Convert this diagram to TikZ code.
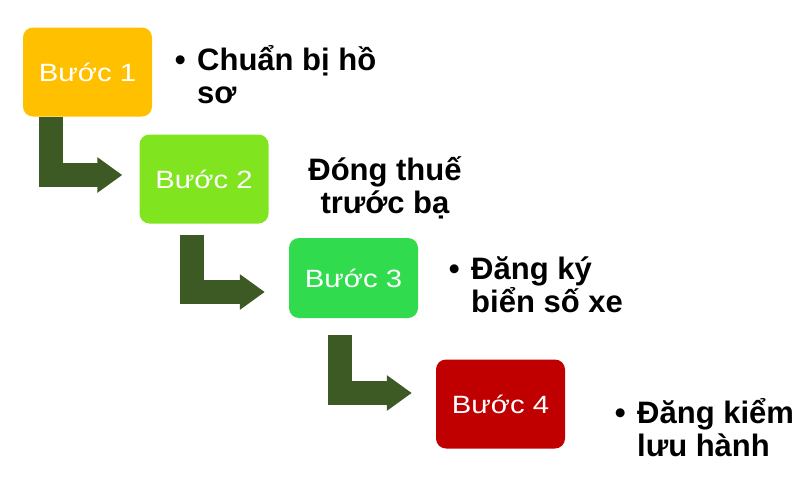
\documentclass[tikz,border=0pt]{standalone}
\usepackage{fontspec}
\setmainfont{Liberation Sans}
\newfontfamily\boxfont[FakeStretch=1.17]{Liberation Sans}
\usetikzlibrary{arrows.meta}
\definecolor{buoc1}{HTML}{FFC000}
\definecolor{buoc2}{HTML}{80E51F}
\definecolor{buoc3}{HTML}{30DB4E}
\definecolor{buoc4}{HTML}{C00000}
\definecolor{muiten}{HTML}{3D5A24}
\begin{document}
\begin{tikzpicture}[x=1pt, y=-1pt,
  box/.style={rounded corners=10pt, minimum width=129pt, minimum height=89pt,
    inner sep=0pt, text=white, font=\boxfont\fontsize{25}{30}\selectfont},
  note/.style={font=\fontsize{31}{33}\bfseries\selectfont, align=left,
    anchor=base west, inner sep=0pt},
  steparrow/.style={draw=muiten, line width=24pt,
    -{Triangle[width=34pt,length=25pt]}}]
\path[use as bounding box] (0,0) rectangle (800,482);
% cac buoc
\node[box, fill=buoc1] (b1) at (87.5,72) {Bước 1};
\node[box, fill=buoc2] (b2) at (204,179) {Bước 2};
\node[box, fill=buoc3, minimum height=80pt] (b3) at (353.5,278) {Bước 3};
\node[box, fill=buoc4] (b4) at (500.5,404) {Bước 4};
% mui ten
\draw[steparrow]([xshift=-37pt]b1.south) |- ([xshift=-17pt,yshift=4pt]b2.west);
\draw[steparrow]([xshift=-12.5pt,yshift=-11pt]b2.south) |- ([xshift=-24pt,yshift=-14pt]b3.west);
\draw[steparrow]([xshift=-14pt,yshift=-17pt]b3.south) |- ([xshift=-24pt,yshift=11pt]b4.west);
% noi dung (base = dong cuoi)
\node[note] (t1) at (197,103) {Chuẩn bị hồ\\sơ};
\node[note, anchor=base east] (d1) at ([xshift=-11pt,yshift=33pt]t1.base west) {•};
\node[note, align=center, anchor=base] (t2) at (385,213) {Đóng thuế\\trước bạ};
\node[note] (t3) at (471,312) {Đăng ký\\biển số xe};
\node[note, anchor=base east] (d3) at ([xshift=-11pt,yshift=33pt]t3.base west) {•};
\node[note] (t4) at (637,456) {Đăng kiểm\\lưu hành};
\node[note, anchor=base east] (d4) at ([xshift=-11pt,yshift=33pt]t4.base west) {•};
\end{tikzpicture}
\end{document}
